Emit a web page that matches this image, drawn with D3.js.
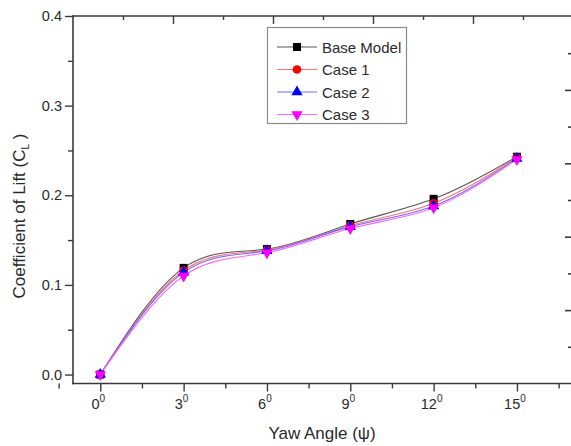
<!DOCTYPE html>
<html>
<head>
<meta charset="utf-8">
<script src="https://cdn.jsdelivr.net/npm/d3@7"></script>
<style>
  html, body { margin: 0; padding: 0; background: #fff; }
  svg { display: block; font-family: "Liberation Sans", Arial, sans-serif; }
</style>
</head>
<body>
<svg id="chart" width="571" height="446"></svg>
<script>
// Yaw angles (degrees) and lift coefficients per configuration
const angles = [0, 3, 6, 9, 12, 15];
const baseModel = [0.000, 0.119, 0.140, 0.168, 0.196, 0.243];
const case1     = [0.000, 0.116, 0.139, 0.166, 0.191, 0.242];
const case2     = [0.000, 0.114, 0.138, 0.165, 0.188, 0.241];
const case3     = [0.000, 0.110, 0.136, 0.163, 0.186, 0.240];

const seriesNames  = ["Base Model", "Case 1", "Case 2", "Case 3"];
const seriesValues = [baseModel, case1, case2, case3];

const xTicks = [0, 3, 6, 9, 12, 15];
const yTicks = [0.0, 0.1, 0.2, 0.3, 0.4];

const svg = d3.select("#chart");
const axisColor = "#3a3a3a";
const textColor = "#2a2a2a";

const x = d3.scaleLinear().domain([-1, 17]).range([72.5, 572.5]);
const y = d3.scaleLinear().domain([-0.01, 0.4]).range([383.5, 16]);

// Frame axes on the top and right sides use their own tick spacing
const xTop = d3.scaleLinear().domain([0, 10]).range([73, 573]);
const yRight = d3.scaleLinear().domain([0, 10]).range([383.5, 16.5]);

const series = seriesNames.map((name, i) => ({
  name,
  values: angles.map((a, j) => ({ x: a, y: seriesValues[i][j] }))
}));

const styles = [
  { line: "#555555", fill: "#000000", symbol: d3.symbolSquare, size: 64, rot: 0 },
  { line: "#ff7070", fill: "#ff0000", symbol: d3.symbolCircle, size: 60, rot: 0 },
  { line: "#6a6aff", fill: "#0000ff", symbol: d3.symbolTriangle, size: 55, rot: 0 },
  { line: "#ff66ff", fill: "#ff00ff", symbol: d3.symbolTriangle, size: 55, rot: 180 }
];

// Axes
const gx = svg.append("g").attr("transform", "translate(0,383.5)");
gx.call(d3.axisBottom(x).tickValues(xTicks).tickSize(8).tickFormat(""));
gx.call(g => g.select(".domain").remove());
gx.append("g").call(d3.axisBottom(x).tickValues([-1.5, 1.5, 4.5, 7.5, 10.5, 13.5, 16.5]).tickSize(5).tickFormat(""))
  .call(g => g.select(".domain").remove());
gx.selectAll(".tick line").attr("stroke", axisColor).attr("stroke-width", 1.4);
gx.append("line").attr("x1", 72).attr("x2", 573).attr("stroke", axisColor).attr("stroke-width", 1.6);

// x tick labels with superscript degree marks
xTicks.forEach(t => {
  const txt = svg.append("text")
    .attr("x", x(t) - 2).attr("y", 409)
    .attr("text-anchor", "middle")
    .attr("font-size", 14.5).attr("fill", textColor);
  txt.append("tspan").text(t);
  txt.append("tspan").attr("dy", -7).attr("font-size", 10).text("0");
});

const gy = svg.append("g").attr("transform", "translate(73,0)");
gy.call(d3.axisLeft(y).tickValues(yTicks).tickSize(8).tickFormat(""))
  .call(g => g.select(".domain").remove());
gy.append("g").call(d3.axisLeft(y).tickValues([0.05, 0.15, 0.25, 0.35]).tickSize(5).tickFormat(""))
  .call(g => g.select(".domain").remove());
gy.selectAll(".tick line").attr("stroke", axisColor).attr("stroke-width", 1.4);
gy.append("line").attr("y1", 15.5).attr("y2", 384.3).attr("stroke", axisColor).attr("stroke-width", 1.6);

yTicks.forEach(t => {
  svg.append("text")
    .attr("x", 62).attr("y", y(t) + 5)
    .attr("text-anchor", "end")
    .attr("font-size", 14.5).attr("fill", textColor)
    .text(t.toFixed(1));
});

// Top frame axis (inward ticks)
const gt = svg.append("g").attr("transform", "translate(0,16)");
gt.call(d3.axisTop(xTop).tickValues([2, 4, 6, 8]).tickSize(-8).tickFormat(""))
  .call(g => g.select(".domain").remove());
gt.append("g").call(d3.axisTop(xTop).tickValues([1, 3, 5, 7, 9]).tickSize(-4).tickFormat(""))
  .call(g => g.select(".domain").remove());
gt.selectAll(".tick line").attr("stroke", axisColor).attr("stroke-width", 1.4);
gt.append("line").attr("x1", 72).attr("x2", 573).attr("stroke", axisColor).attr("stroke-width", 1.6);

// Right frame axis (inward ticks)
const gr = svg.append("g").attr("transform", "translate(572,0)");
gr.call(d3.axisRight(yRight).tickValues([2, 4, 6, 8]).tickSize(-7).tickFormat(""))
  .call(g => g.select(".domain").remove());
gr.append("g").call(d3.axisRight(yRight).tickValues([1, 3, 5, 7, 9]).tickSize(-4).tickFormat(""))
  .call(g => g.select(".domain").remove());
gr.selectAll(".tick line").attr("stroke", axisColor).attr("stroke-width", 1.6);

// Axis titles
svg.append("text")
  .attr("x", 322).attr("y", 439)
  .attr("text-anchor", "middle")
  .attr("font-size", 17).attr("fill", textColor)
  .text("Yaw Angle (\u03C8)");

const yt = svg.append("text")
  .attr("transform", "translate(25,216) rotate(-90)")
  .attr("text-anchor", "middle")
  .attr("font-size", 17).attr("fill", textColor);
yt.append("tspan").text("Coefficient of Lift (C");
yt.append("tspan").attr("dy", 4).attr("font-size", 10).text("L");
yt.append("tspan").attr("dy", -4).text(" )");

// Curves
const line = d3.line().x(d => x(d.x)).y(d => y(d.y)).curve(d3.curveNatural);

series.forEach((s, i) => {
  svg.append("path")
    .datum(s.values)
    .attr("fill", "none")
    .attr("stroke", styles[i].line)
    .attr("stroke-width", 1.1)
    .attr("d", line);
});

// Markers
series.forEach((s, i) => {
  const st = styles[i];
  const sym = d3.symbol().type(st.symbol).size(st.size);
  svg.append("g").selectAll("path")
    .data(s.values)
    .join("path")
    .attr("d", sym)
    .attr("fill", st.fill)
    .attr("transform", d => `translate(${x(d.x)},${y(d.y)}) rotate(${st.rot})`);
});

// Legend
const legend = svg.append("g");
legend.append("rect")
  .attr("x", 267.5).attr("y", 27.5).attr("width", 139).attr("height", 96)
  .attr("fill", "#fff").attr("stroke", "#8a8a8a").attr("stroke-width", 1.2);

series.forEach((s, i) => {
  const st = styles[i];
  const ly = 47 + i * 22.5;
  legend.append("line")
    .attr("x1", 277).attr("x2", 317).attr("y1", ly).attr("y2", ly)
    .attr("stroke", st.line).attr("stroke-width", 1.1);
  legend.append("path")
    .attr("d", d3.symbol().type(st.symbol).size(st.size)())
    .attr("fill", st.fill)
    .attr("transform", `translate(297,${ly}) rotate(${st.rot})`);
  legend.append("text")
    .attr("x", 322).attr("y", ly + 5.5)
    .attr("font-size", 15).attr("fill", textColor)
    .text(s.name);
});
</script>
</body>
</html>
